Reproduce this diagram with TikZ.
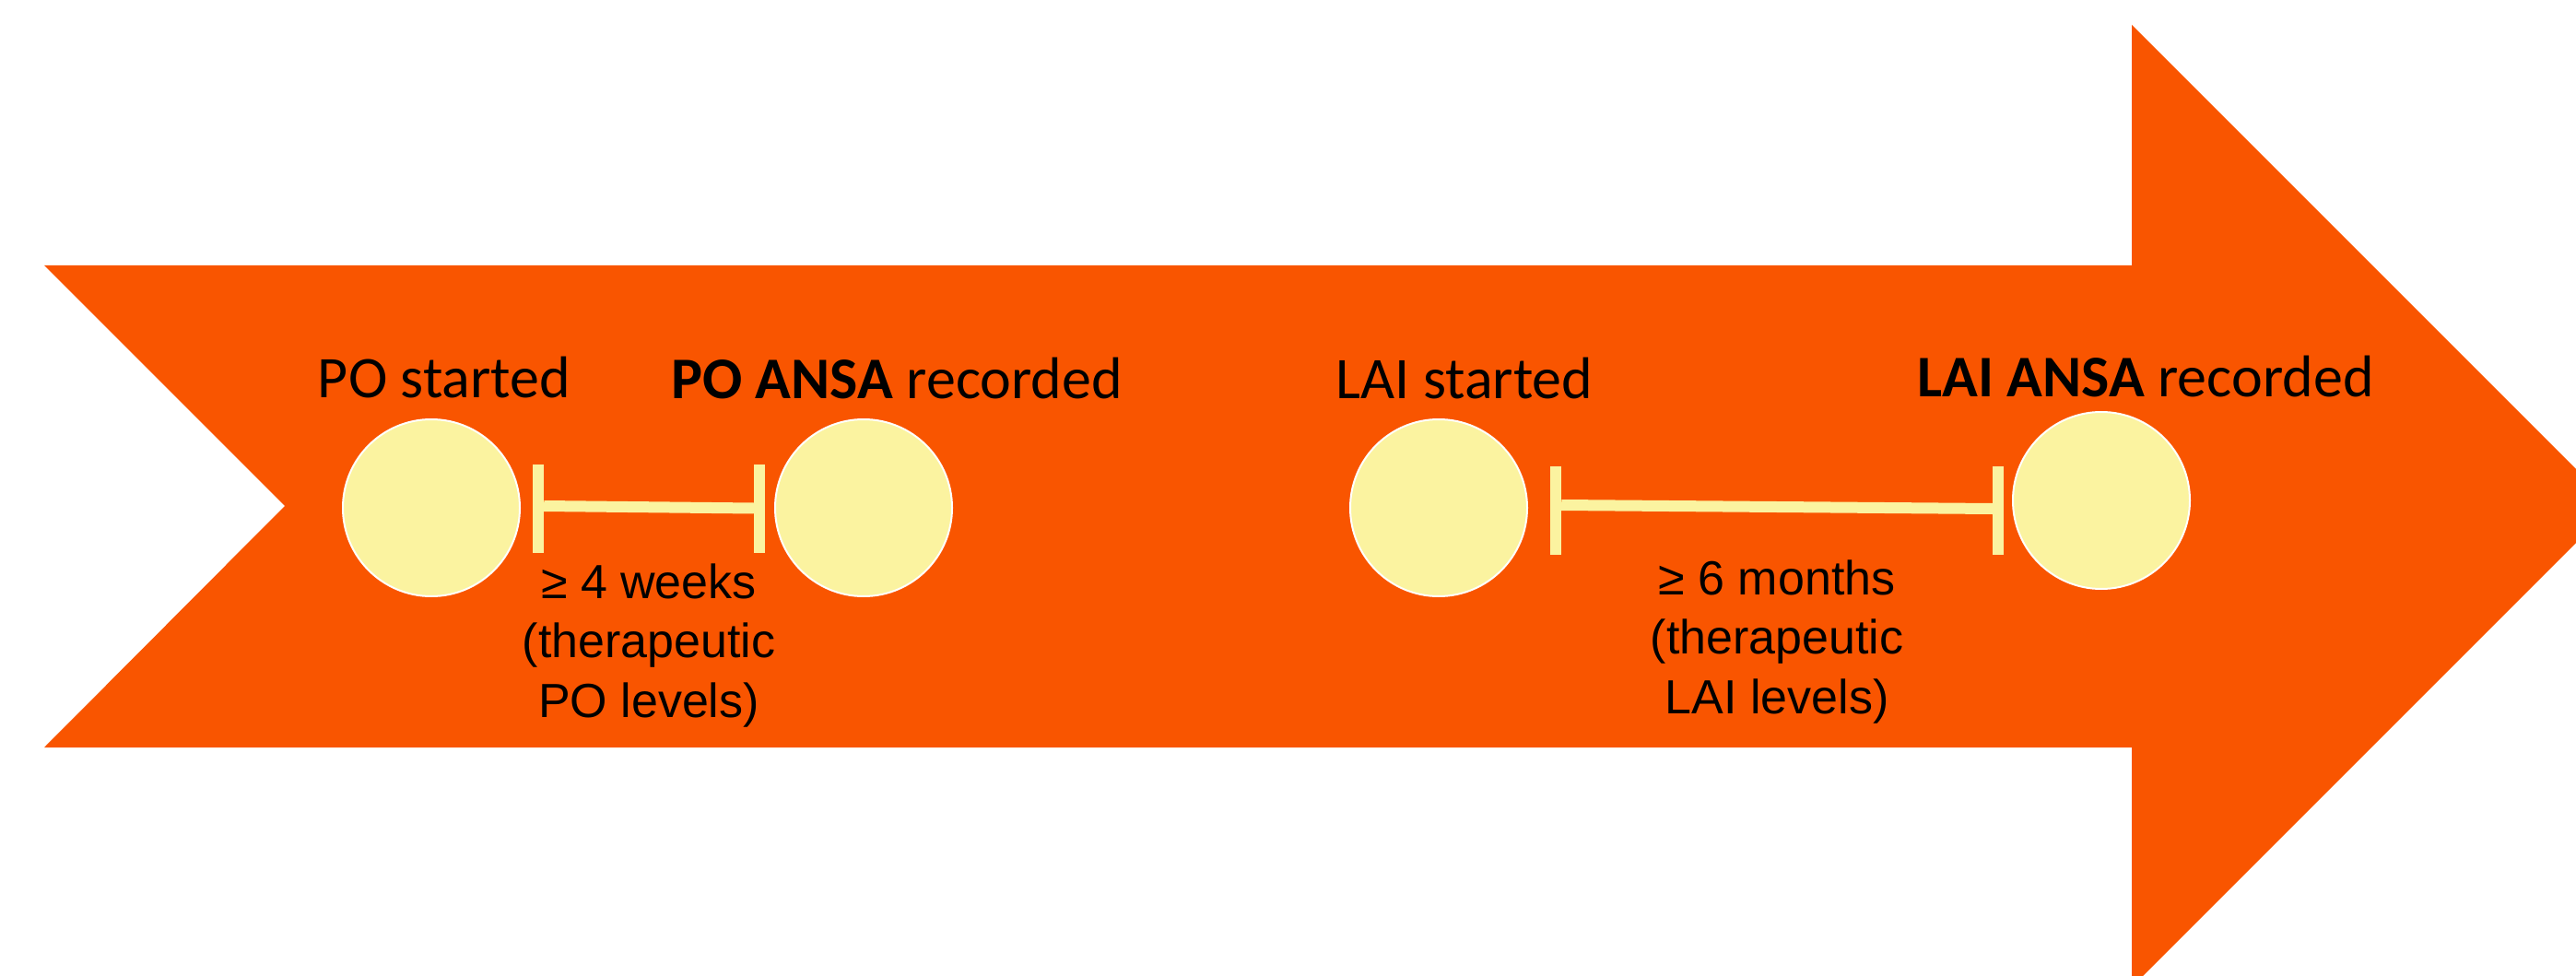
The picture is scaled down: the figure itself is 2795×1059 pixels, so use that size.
\documentclass[tikz,border=0pt]{standalone}
\usepackage{fontspec}
\newfontfamily\calib{Carlito}
\newfontfamily\arialx{Liberation Sans}
\definecolor{arroworange}{HTML}{F95500}
\definecolor{pale}{HTML}{FBF3A0}
\begin{document}
\begin{tikzpicture}[x=1pt,y=-1pt,
  event/.style={circle, fill=pale, draw=white, line width=2pt, minimum size=192pt, inner sep=0pt},
  tickbar/.style={rectangle, fill=pale, minimum width=12pt, minimum height=96pt, inner sep=0pt},
  span/.style={draw=pale, line width=12pt},
  lbl/.style={font=\calib\fontsize{64}{77}\selectfont, anchor=base, inner sep=0pt, text=black},
  note/.style={font=\arialx\fontsize{52}{64.5}\selectfont, align=center, anchor=base, inner sep=0pt, text=black}]
\useasboundingbox (0,0) rectangle (2795,1059);
\begin{scope}
\clip (0,0) rectangle (2795,1059);
\fill[arroworange] (48,288) -- (2313,288) -- (2313,27) -- (2835,549) -- (2313,1071) -- (2313,811) -- (48,811) -- (309,549) -- cycle;
\end{scope}
% events
\node[event] (c1) at (468,551) {};
\node[event] (c2) at (937,551) {};
\node[event] (c3) at (1561,551) {};
\node[event] (c4) at (2280,543) {};
% interval bars
\node[tickbar] (b1l) at (584,551.5) {};
\node[tickbar] (b1r) at (824,551.5) {};
\node[tickbar] (b2l) at (1688,554) {};
\node[tickbar] (b2r) at (2168,554) {};
\draw[span] ([yshift=2.5pt]b1l.east) -- ([yshift=0pt]b1r.west);
\draw[span] ([yshift=6pt]b2l.east) -- ([yshift=2pt]b2r.west);
% labels
\node[lbl] (t1) at (482,431) {PO started};
\node[lbl] (t2) at (973,432) {\textbf{PO ANSA} recorded};
\node[lbl] (t3) at (1589,432) {LAI started};
\node[lbl] (t4) at (2328,430) {\textbf{LAI ANSA} recorded};
\node[note] (n1) at (704,778) {≥ 4 weeks\\(therapeutic\\PO levels)};
\node[note] (n2) at (1928,774) {≥ 6 months\\(therapeutic\\LAI levels)};
\end{tikzpicture}
\end{document}
